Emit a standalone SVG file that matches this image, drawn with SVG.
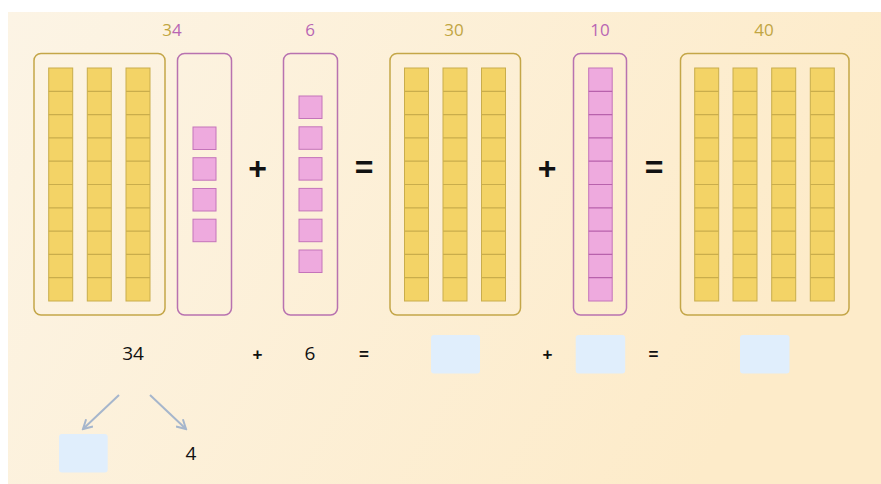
<svg xmlns="http://www.w3.org/2000/svg" xmlns:xlink="http://www.w3.org/1999/xlink" width="881" height="484" viewBox="0 0 881 484">
<style>
.ybox{fill:none;stroke:#c4a648;stroke-width:1.5}
.pbox{fill:none;stroke:#b872b0;stroke-width:1.5}
.rod{fill:#f3d366;stroke:#c9ad4c;stroke-width:1}
.rodl{stroke:#c9ad4c;stroke-width:1.2}
.unit{fill:#eeaade;stroke:#c474ba;stroke-width:1}
.unitl{stroke:#b862ac;stroke-width:1.2}
.lbl{font-family:"Open Sans","Noto Sans",sans-serif;font-size:17px;font-weight:500;text-anchor:middle}
.gold{fill:#c1a542}
.pink{fill:#b866b4}
.op{font-family:"Liberation Sans",Arial,sans-serif;font-weight:bold;font-size:32px;text-anchor:middle;fill:#111}
.num{font-family:"Open Sans","Noto Sans",sans-serif;font-size:19px;text-anchor:middle;fill:#111}
.sop{font-family:"Liberation Sans",Arial,sans-serif;font-weight:bold;font-size:17px;text-anchor:middle;fill:#111}
.blank{fill:#e0eefc}
.arr{stroke:#a6b6cc;stroke-width:2;fill:none}
</style>
<defs>
<linearGradient id="bg" x1="0" y1="0" x2="1" y2="0.3">
<stop offset="0" stop-color="#fcf4e5"/>
<stop offset="1" stop-color="#fdebc9"/>
</linearGradient>
<g id="rod">
<rect class="rod" x="0" y="0" width="24" height="233"/>
<path class="rodl" d="M0,23.3H24M0,46.6H24M0,69.9H24M0,93.2H24M0,116.5H24M0,139.8H24M0,163.1H24M0,186.4H24M0,209.7H24"/>
</g>
<g id="prod">
<rect class="unit" x="0" y="0" width="23.5" height="233"/>
<path class="unitl" d="M0,23.3H23.5M0,46.6H23.5M0,69.9H23.5M0,93.2H23.5M0,116.5H23.5M0,139.8H23.5M0,163.1H23.5M0,186.4H23.5M0,209.7H23.5"/>
</g>
<rect id="u" class="unit" x="0" y="0" width="23" height="22.5"/>
<marker id="ah" viewBox="0 0 12 12" refX="10" refY="6" markerWidth="12" markerHeight="12" markerUnits="userSpaceOnUse" orient="auto">
<path d="M1,1 L10,6 L1,11" fill="none" stroke="#a6b6cc" stroke-width="2"/>
</marker>
</defs>
<rect x="0" y="0" width="881" height="484" fill="#ffffff"/>
<rect x="8" y="12" width="873" height="472" fill="url(#bg)"/>

<g id="n34">
<text class="lbl" x="172" y="36"><tspan class="gold">3</tspan><tspan class="pink">4</tspan></text>
<rect class="ybox" x="34" y="53.5" width="131" height="261.5" rx="7"/>
<use xlink:href="#rod" x="48.7" y="68"/>
<use xlink:href="#rod" x="87.3" y="68"/>
<use xlink:href="#rod" x="126" y="68"/>
<rect class="pbox" x="177.5" y="53.5" width="54" height="261.5" rx="7"/>
<use xlink:href="#u" x="193" y="127"/>
<use xlink:href="#u" x="193" y="157.7"/>
<use xlink:href="#u" x="193" y="188.5"/>
<use xlink:href="#u" x="193" y="219.2"/>
</g>
<text id="op1" class="op" x="257.5" y="179">+</text>
<g id="n6">
<text class="lbl pink" x="310" y="36">6</text>
<rect class="pbox" x="283.5" y="53.5" width="54" height="261.5" rx="7"/>
<use xlink:href="#u" x="299" y="96"/>
<use xlink:href="#u" x="299" y="126.8"/>
<use xlink:href="#u" x="299" y="157.6"/>
<use xlink:href="#u" x="299" y="188.4"/>
<use xlink:href="#u" x="299" y="219.2"/>
<use xlink:href="#u" x="299" y="250"/>
</g>
<text id="op2" class="op" x="364" y="178">=</text>
<g id="n30">
<text class="lbl gold" x="454" y="36">30</text>
<rect class="ybox" x="390" y="53.5" width="130.5" height="261.5" rx="7"/>
<use xlink:href="#rod" x="404.5" y="68"/>
<use xlink:href="#rod" x="443" y="68"/>
<use xlink:href="#rod" x="481.5" y="68"/>
</g>
<text id="op3" class="op" x="547" y="179">+</text>
<g id="n10">
<text class="lbl pink" x="600" y="36">10</text>
<rect class="pbox" x="573.5" y="53.5" width="53" height="261.5" rx="7"/>
<use xlink:href="#prod" x="588.7" y="68"/>
</g>
<text id="op4" class="op" x="654" y="178">=</text>
<g id="n40">
<text class="lbl gold" x="764" y="36">40</text>
<rect class="ybox" x="680.5" y="53.5" width="168.5" height="261.5" rx="7"/>
<use xlink:href="#rod" x="694.7" y="68"/>
<use xlink:href="#rod" x="733" y="68"/>
<use xlink:href="#rod" x="771.7" y="68"/>
<use xlink:href="#rod" x="810.3" y="68"/>
</g>

<g id="eq">
<text class="num" x="133" y="360">34</text>
<text class="sop" x="257.5" y="360">+</text>
<text class="num" x="310" y="360">6</text>
<text class="sop" x="364" y="360">=</text>
<rect class="blank" x="431" y="335" width="49" height="38.5" rx="3"/>
<text class="sop" x="547.5" y="360">+</text>
<rect class="blank" x="575.7" y="335" width="49.5" height="38.5" rx="3"/>
<text class="sop" x="653.5" y="360">=</text>
<rect class="blank" x="740" y="335" width="49.5" height="38.5" rx="3"/>
</g>
<g id="split-left">
<rect class="blank" x="59" y="434" width="48.7" height="38.5" rx="3"/>
</g>
<g id="split-right">
<text class="num" x="191" y="460">4</text>
</g>
<g id="connectors">
<line class="arr" x1="119" y1="395" x2="83" y2="429" marker-end="url(#ah)"/>
<line class="arr" x1="150" y1="395" x2="186" y2="429" marker-end="url(#ah)"/>
</g>
</svg>
